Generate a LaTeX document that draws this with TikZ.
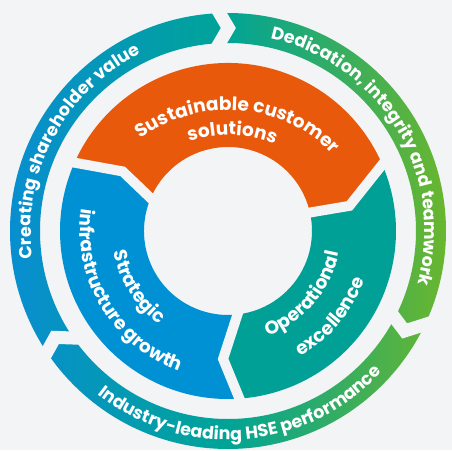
\documentclass[tikz,border=0pt]{standalone}
\usepackage{fontspec}
\setmainfont{Poppins}
\usetikzlibrary{calc}
\usetikzlibrary{decorations.text}

\definecolor{bgcol}{RGB}{242,244,245}
\definecolor{sustorange}{RGB}{232,89,12}
\definecolor{opteal}{RGB}{0,160,150}
\definecolor{stratblue}{RGB}{0,144,212}
\definecolor{ringblue}{RGB}{8,142,208}
\definecolor{ringteal}{RGB}{0,164,150}
\definecolor{ringgreen}{RGB}{106,182,46}
\newcommand{\ringfont}{\fontsize{17.5}{17.5}\selectfont\bfseries}
\newcommand{\segfont}{\fontsize{18.5}{18.5}\selectfont\bfseries}

\begin{document}
\begin{tikzpicture}[x=1pt, y=1pt,
            line join = miter,
            outergap/.style = {draw=bgcol, line width=13pt},
            innergap/.style = {draw=bgcol, line width=10pt},
            ringtext/.style = {decorate, decoration={text along path,
                text align=center, text color=white, text={#1}}}]
            \useasboundingbox (-228,-219) rectangle (224,231);
            \fill[bgcol] (-228,-219) rectangle (224,231);
            \shade[even odd rule, left color=ringblue, right color=ringgreen, middle color=ringteal]
                (0,0) circle[radius=218] (0,0) circle[radius=188];
            \coordinate (g1o) at (92.2:218);
            \coordinate (g1t) at (89.9:203);
            \coordinate (g1i) at (92.6:188);
            \coordinate (g2o) at (-25.4:218);
            \coordinate (g2t) at (-29.5:203);
            \coordinate (g2i) at (-27.5:188);
            \coordinate (g3o) at (213.8:218);
            \coordinate (g3t) at (211.6:203);
            \coordinate (g3i) at (214.7:188);
            \foreach \g in {g1,g2,g3}
                \draw[outergap] ($(\g t)!1.5!(\g o)$) -- (\g t) -- ($(\g t)!1.5!(\g i)$);
            \coordinate (b1o) at (156:168);
            \coordinate (b1t) at (150.5:121);
            \coordinate (b1i) at (157:84);
            \coordinate (b2o) at (23.3:168);
            \coordinate (b2t) at (11.7:124);
            \coordinate (b2i) at (12.7:84);
            \coordinate (b3o) at (273.9:168);
            \coordinate (b3t) at (267.8:128);
            \coordinate (b3i) at (276.5:84);
            \fill[sustorange] (b1o) arc[start angle=156, end angle=23.3, radius=168]
                -- (b2t) -- (b2i) arc[start angle=12.7, end angle=157, radius=84] -- (b1t) -- cycle;
            \fill[opteal] (b2o) arc[start angle=23.3, end angle=-86.1, radius=168]
                -- (b3t) -- (b3i) arc[start angle=-83.5, end angle=12.7, radius=84] -- (b2t) -- cycle;
            \fill[stratblue] (b3o) arc[start angle=273.9, end angle=156, radius=168]
                -- (b1t) -- (b1i) arc[start angle=157, end angle=276.5, radius=84] -- (b3t) -- cycle;
            \foreach \b in {b1,b2,b3}
                \draw[innergap] ($(\b t)!1.2!(\b o)$) -- (\b t) -- ($(\b t)!1.2!(\b i)$);
            \path[ringtext={|\ringfont|Creating shareholder value}]
                (212:197) arc[start angle=212, end angle=92, radius=197];
            \path[ringtext={|\ringfont|Dedication, integrity and teamwork}]
                (91:197) arc[start angle=91, end angle=-29, radius=197];
            \path[ringtext={|\ringfont|Industry-leading HSE performance}]
                (214.5:209) arc[start angle=214.5, end angle=334.5, radius=209];
            \path[ringtext={|\segfont|Sustainable customer}]
                ($(0,-25)+(145:146)$) arc[start angle=145, end angle=26, radius=146];
            \path[ringtext={|\segfont|solutions}]
                ($(0,-25)+(145:121)$) arc[start angle=145, end angle=31, radius=121];
            \path[ringtext={|\segfont|Strategic}]
                (150:116) arc[start angle=150, end angle=274, radius=116];
            \path[ringtext={|\segfont|infrastructure growth}]
                (140:148) arc[start angle=140, end angle=282, radius=148];
            \path[ringtext={|\segfont|Operational}]
                (-100:113) arc[start angle=-100, end angle=20, radius=113];
            \path[ringtext={|\segfont|excellence}]
                (-100:145) arc[start angle=-100, end angle=20, radius=145];
\end{tikzpicture}
\end{document}
